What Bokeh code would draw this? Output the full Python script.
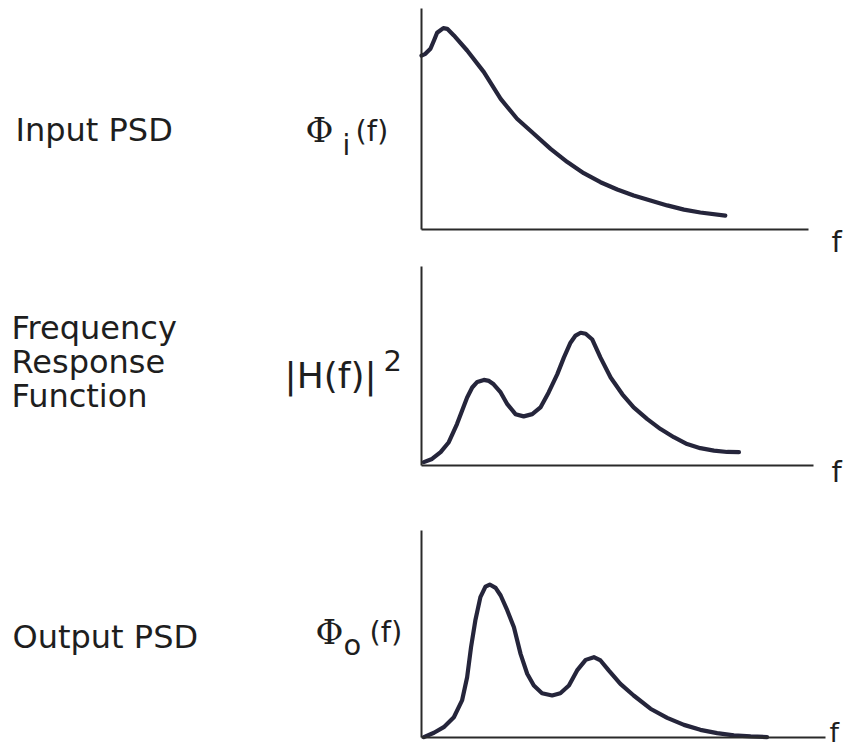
from bokeh.plotting import figure
from bokeh.layouts import column
from bokeh.models import Range1d, Label, FixedTicker
from bokeh.embed import file_html
from bokeh.resources import INLINE

# ---------------- data (arbitrary units) ----------------
# Input PSD  Phi_i(f)
freq_in = [0.0, 0.10, 0.23, 0.32, 0.40, 0.56, 0.66, 0.83, 1.17, 1.60, 2.03, 2.45,
           2.88, 3.31, 3.74, 4.16, 4.59, 5.02, 5.44, 5.87, 6.30, 6.73, 7.15, 7.79]
phi_in = [7.87, 7.95, 8.18, 8.55, 8.90, 9.11, 9.08, 8.78, 8.10, 7.12, 5.91, 5.01,
          4.33, 3.65, 3.05, 2.55, 2.14, 1.81, 1.54, 1.31, 1.09, 0.90, 0.77, 0.63]

# Frequency response function |H(f)|^2
freq_h = [0.06, 0.27, 0.49, 0.70, 0.91, 1.04, 1.17, 1.30, 1.43, 1.60, 1.73, 1.85,
          2.03, 2.20, 2.41, 2.62, 2.84, 3.05, 3.26, 3.48, 3.65, 3.82, 3.95, 4.08,
          4.21, 4.38, 4.59, 4.85, 5.15, 5.44, 5.79, 6.13, 6.47, 6.81, 7.15, 7.50,
          7.84, 8.14]
h_sq = [0.17, 0.33, 0.67, 1.17, 2.08, 2.75, 3.42, 3.92, 4.20, 4.30, 4.25, 4.08,
        3.67, 3.08, 2.58, 2.47, 2.58, 2.92, 3.67, 4.58, 5.42, 6.17, 6.53, 6.67,
        6.62, 6.33, 5.42, 4.42, 3.58, 2.92, 2.33, 1.83, 1.42, 1.08, 0.87, 0.75,
        0.68, 0.67]

# Output PSD  Phi_o(f)
freq_out = [0.06, 0.32, 0.57, 0.83, 1.04, 1.17, 1.27, 1.38, 1.51, 1.64, 1.75, 1.90,
            2.03, 2.20, 2.37, 2.54, 2.71, 2.88, 3.09, 3.35, 3.56, 3.78, 3.99, 4.21,
            4.42, 4.59, 4.80, 5.10, 5.44, 5.87, 6.30, 6.73, 7.15, 7.58, 8.01, 8.44,
            8.86]
phi_out = [0.02, 0.23, 0.50, 0.98, 1.79, 2.91, 4.36, 5.65, 6.78, 7.29, 7.39, 7.23,
           6.86, 6.14, 5.33, 4.04, 3.08, 2.51, 2.14, 2.03, 2.14, 2.51, 3.24, 3.75,
           3.88, 3.72, 3.24, 2.59, 2.03, 1.39, 0.95, 0.61, 0.37, 0.21, 0.10, 0.05,
           0.02]

row_titles = [["Input PSD"], ["Frequency", "Response", "Function"], ["Output PSD"]]
axis_name = "f"

# ---------------- styling ----------------
W = 843
INK = "#25253b"
AXIS = "#2a2a2a"
TEXT = "#1e1e1e"
SANS = "DejaVu Sans"
SERIF = "DejaVu Serif"
X0 = 421.0      # canvas x of the vertical axis
PXU = 39.0      # pixels per frequency unit

# canvas geometry of the three panels: fig_top, axis_top, axis_bottom, fig_bottom, axis_right
GEOM = [
    (0, 8, 229, 262, 808),
    (262, 266, 465, 494, 813),
    (494, 530, 737, 748, 825),
]


def make_panel(g, xs, ys):
    fig_top, ax_top, ax_bot, fig_bot, ax_right = g
    H = fig_bot - fig_top
    yb = ax_bot - fig_top
    ypu = (ax_bot - ax_top) / 10.0
    p = figure(width=W, height=H, output_backend="svg",
               toolbar_location=None, title=None,
               x_range=Range1d(-X0 / PXU, (W - X0) / PXU),
               y_range=Range1d((yb - H) / ypu, yb / ypu),
               min_border=0, min_border_left=0, min_border_right=0,
               min_border_top=0, min_border_bottom=0)
    p.outline_line_color = None
    p.grid.visible = False
    p.background_fill_color = "white"
    p.border_fill_color = "white"
    p.xaxis.fixed_location = 0
    p.yaxis.fixed_location = 0
    p.xaxis.bounds = (0, (ax_right - X0) / PXU)
    p.yaxis.bounds = (0, 10)
    for ax in (p.xaxis[0], p.yaxis[0]):
        ax.ticker = FixedTicker(ticks=[])
        ax.major_tick_line_color = None
        ax.minor_tick_line_color = None
        ax.major_label_text_font_size = "0px"
        ax.axis_line_color = AXIS
        ax.axis_line_width = 2
    p.line(xs, ys, line_width=4.2, line_color=INK, line_join="round", line_cap="round")

    def lab(text, px, baseline, size, font=SANS):
        # anchor is the vertical middle of the text box: ~0.35 em above the baseline
        py = baseline - 0.35 * size
        p.add_layout(Label(x=(px - X0) / PXU, y=(ax_bot - py) / ypu, text=text,
                           text_font=font, text_font_size=f"{size}px",
                           text_color=TEXT, text_baseline="middle",
                           text_align="left"))
    return p, lab


p1, lab1 = make_panel(GEOM[0], freq_in, phi_in)
lab1(row_titles[0][0], 15, 141, 32)
lab1("\u03a6", 305, 141, 34, SERIF)
lab1("i", 342, 155, 28)
lab1("(f)", 355, 141, 29)
lab1(axis_name, 831, 252, 29)

p2, lab2 = make_panel(GEOM[1], freq_h, h_sq)
for i, t in enumerate(row_titles[1]):
    lab2(t, 11, 339 + i * 34, 32)
lab2("|H(f)|", 284, 388, 36)
lab2("2", 383, 370, 29)
lab2(axis_name, 831, 482, 29)

p3, lab3 = make_panel(GEOM[2], freq_out, phi_out)
lab3(row_titles[2][0], 12, 648, 32)
lab3("\u03a6", 315, 643, 34, SERIF)
lab3("o", 343, 655, 29)
lab3("(f)", 369, 642, 29)
lab3(axis_name, 829, 741, 27)

layout = column(p1, p2, p3, spacing=0)
open("out.html", "w").write(file_html(layout, INLINE))
